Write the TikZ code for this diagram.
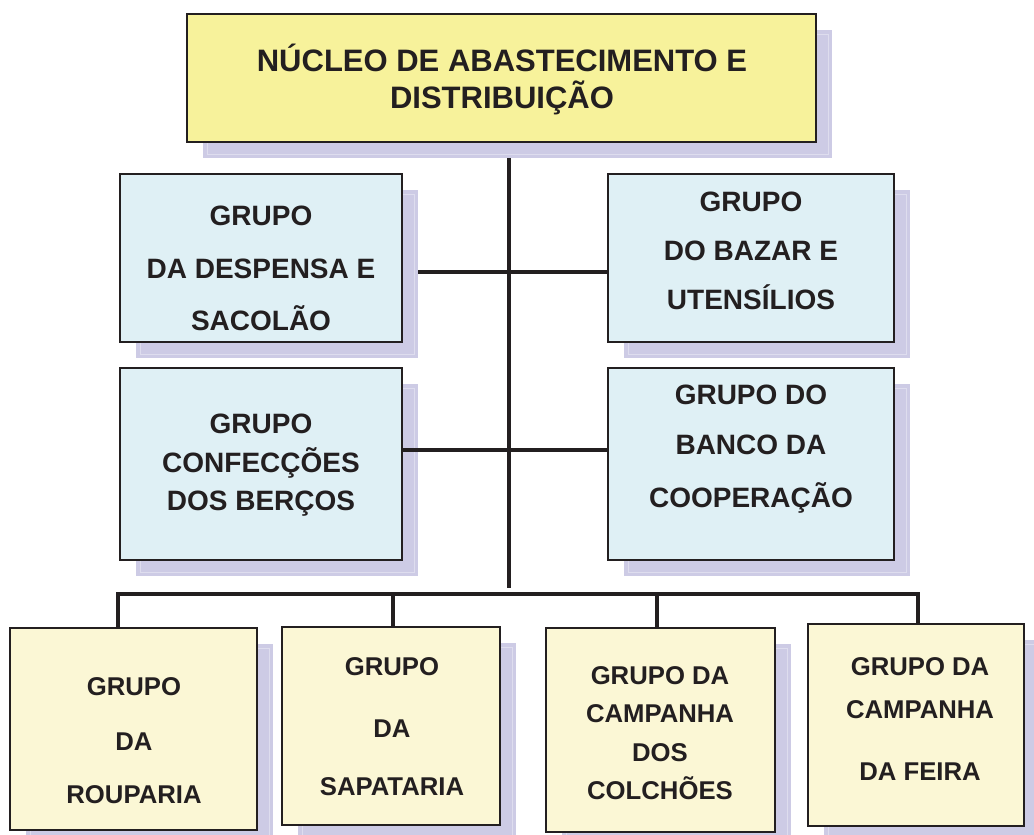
\documentclass[tikz,border=0pt]{standalone}
\usepackage{fontspec}
\setmainfont{Liberation Sans}
\usetikzlibrary{calc}
\definecolor{ink}{RGB}{35,31,32}
\definecolor{shade}{RGB}{205,203,229}
\definecolor{shadeline}{RGB}{222,221,238}
\definecolor{topfill}{RGB}{247,242,155}
\definecolor{midfill}{RGB}{223,240,245}
\definecolor{botfill}{RGB}{251,247,213}
\pgfdeclarelayer{background}
\pgfsetlayers{background,main}
\newcommand\mkbox[6]{%
  \node[shadowbox, minimum width={#4-#3}, minimum height={#6-#5}] (#1s) at ({(#3+#4)/2+16},{(#5+#6)/2+16}) {};
  \draw[shadeline, line width=0.8pt] ($(#1s.north west)+(4,4)$) rectangle ($(#1s.south east)+(-4,-4)$);
  \node[gbox, fill=#2, minimum width={#4-#3}, minimum height={#6-#5}] (#1) at ({(#3+#4)/2},{(#5+#6)/2}) {};
}
\newcommand\tline[5]{%
  \node[tl, font=\fontsize{#4}{#4}\selectfont\bfseries] (#1) at (#2,{#3+0.358*#4}) {#5};
}
\begin{document}
\begin{tikzpicture}[x=1pt,y=-1pt,
  shadowbox/.style={rectangle, fill=shade, inner sep=0pt, outer sep=0pt},
  gbox/.style={rectangle, draw=ink, line width=2.2pt, inner sep=0pt, outer sep=0pt},
  tl/.style={anchor=base, inner sep=0pt, text=ink},
  conn/.style={draw=ink, line width=4.5pt}]
\clip (0,0) rectangle (1034,835);
\useasboundingbox (0,0) rectangle (1034,835);

\mkbox{top}{topfill}{187}{816}{14}{142}
\mkbox{la}{midfill}{120}{402}{174}{342}
\mkbox{ra}{midfill}{608}{894}{174}{342}
\mkbox{lb}{midfill}{120}{402}{368}{560}
\mkbox{rb}{midfill}{608}{894}{368}{560}
\mkbox{ba}{botfill}{10}{257}{628}{830}
\mkbox{bb}{botfill}{282}{500}{627}{825}
\mkbox{bc}{botfill}{546}{775}{628}{832}
\mkbox{bd}{botfill}{808}{1024}{624}{826}

\coordinate (tk) at (509,588);
\coordinate (h1) at (509,272);
\coordinate (h2) at (509,450);
\coordinate (d1) at (118,594);
\coordinate (d2) at (393,594);
\coordinate (d3) at (657,594);
\coordinate (d4) at (918,594);

\begin{pgfonlayer}{background}
\draw[conn] (top.south -| tk) -- (tk);
\draw[conn] (h1 -| las.east) -- (h1 -| ra.west);
\end{pgfonlayer}
\draw[conn] (h2 -| lb.east) -- (h2 -| rb.west);
\draw[conn] (d1 |- ba.north) -- (d1) -- (d4) -- (d4 |- bd.north);
\draw[conn] (d2) -- (d2 |- bb.north);
\draw[conn] (d3) -- (d3 |- bc.north);

\tline{t1}{502}{60}{31}{NÚCLEO DE ABASTECIMENTO E}
\tline{t2}{502}{97}{31}{DISTRIBUIÇÃO}

\tline{t3}{261}{215}{28}{GRUPO}
\tline{t4}{261}{268}{28}{DA DESPENSA E}
\tline{t5}{261}{320}{28}{SACOLÃO}

\tline{t6}{751}{201}{28}{GRUPO}
\tline{t7}{751}{250}{28}{DO BAZAR E}
\tline{t8}{751}{299}{28}{UTENSÍLIOS}

\tline{t9}{261}{423}{28}{GRUPO}
\tline{t10}{261}{462}{28}{CONFECÇÕES}
\tline{t11}{261}{500}{28}{DOS BERÇOS}

\tline{t12}{751}{394}{28}{GRUPO DO}
\tline{t13}{751}{444}{28}{BANCO DA}
\tline{t14}{751}{497}{28}{COOPERAÇÃO}

\tline{t15}{134}{686}{25.7}{GRUPO}
\tline{t16}{134}{741}{25.7}{DA}
\tline{t17}{134}{794}{25.7}{ROUPARIA}

\tline{t18}{392}{666}{25.7}{GRUPO}
\tline{t19}{392}{728}{25.7}{DA}
\tline{t20}{392}{786}{25.7}{SAPATARIA}

\tline{t21}{660}{675}{25.7}{GRUPO DA}
\tline{t22}{660}{713}{25.7}{CAMPANHA}
\tline{t23}{660}{752}{25.7}{DOS}
\tline{t24}{660}{790}{25.7}{COLCHÕES}

\tline{t25}{920}{666}{25.7}{GRUPO DA}
\tline{t26}{920}{709}{25.7}{CAMPANHA}
\tline{t27}{920}{771}{25.7}{DA FEIRA}
\end{tikzpicture}
\end{document}
